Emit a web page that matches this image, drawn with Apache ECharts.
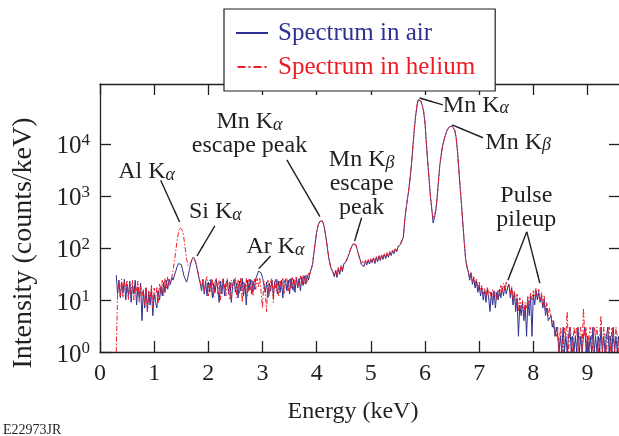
<!DOCTYPE html>
<html>
<head>
    <meta charset="utf-8">
    <title>Spectrum</title>
    <script src="https://cdn.jsdelivr.net/npm/echarts@6/dist/echarts.min.js"></script>
    <style>
        html, body { margin: 0; padding: 0; background: #fff; }
        #main { width: 619px; height: 436px; }
    </style>
</head>
<body>
    <div id="main"></div>
    <script type="text/javascript">
        // channel calibration of the spectra (keV)
        var E0 = 0.3, dE = 0.025;

        // counts/keV, one value per 0.025 keV channel from 0.3 keV
        var airCounts = [
            30, 13, 24, 11, 21, 14, 25, 10, 20, 12,
            23, 9, 19, 13, 24, 8, 18, 11, 21, 4,
            15, 7, 17, 6, 14, 8, 16, 5, 13, 9,
            7, 15, 10, 18, 12, 22, 14, 24, 16, 25,
            20, 27, 24, 30, 36, 44, 50, 54, 48, 38,
            29, 25, 22, 28, 38, 50, 60, 66, 60, 48,
            36, 27, 21, 15, 25, 13, 23, 12, 22, 14,
            25, 11, 21, 14, 24, 16, 9, 23, 13, 25,
            12, 21, 24, 13, 22, 9, 20, 25, 14, 21,
            11, 23, 15, 26, 12, 21, 8, 24, 15, 25,
            13, 23, 16, 26, 30, 36, 37, 33, 27, 20,
            14, 22, 11, 21, 15, 24, 12, 22, 25, 13,
            23, 14, 24, 11, 22, 25, 15, 24, 13, 26,
            16, 25, 14, 27, 17, 26, 15, 28, 19, 29,
            20, 30, 24, 33, 35, 48, 80, 130, 200, 265,
            315, 340, 335, 290, 220, 150, 95, 62, 46, 38,
            34, 28, 36, 27, 40, 31, 44, 35, 48, 46,
            56, 66, 78, 92, 108, 120, 124, 112, 92, 72,
            60, 48, 52, 44, 55, 47, 58, 49, 60, 52,
            64, 50, 66, 54, 70, 57, 72, 60, 75, 62,
            78, 66, 83, 71, 88, 77, 96, 84, 104, 106,
            118, 128, 160, 330, 560, 850, 1300, 2200, 4000, 8300,
            17800, 33000, 52500, 71000, 74000, 66000, 55000, 41700, 25100, 10500,
            4500, 2100, 1000, 560, 300, 380, 525, 950, 2000, 4000,
            6300, 9100, 11700, 14500, 17400, 19500, 21400, 22400, 21900, 20400,
            18200, 13200, 7100, 3200, 1400, 660, 280, 126, 60, 42,
            34, 24, 33, 20, 26, 17, 23, 14, 19, 12,
            17, 10, 15, 9, 16, 11, 6, 14, 8, 15,
            7, 14, 10, 16, 11, 17, 12, 19, 13, 17,
            20, 11, 17, 8, 14, 6, 11, 2, 8, 5,
            9, 4, 8, 2, 10, 5, 12, 2, 13, 8,
            15, 10, 14, 9, 12, 7, 10, 5, 7, 4,
            4, 5, 3, 4, 2, 3, 2, 1, 2, 1,
            3, 1, 2, 1, 2, 3, 1, 2, 1, 2,
            1, 3, 1, 2, 1, 2, 3, 1, 2, 1,
            2, 1, 3, 1, 2, 1, 2, 1, 3, 1,
            2, 1, 2, 3, 1, 2, 1, 3, 1, 2,
            1, 2, 1
        ];

        var heliumCounts = [
            1, 14, 23, 12, 25, 11, 22, 16, 24, 10,
            21, 13, 24, 10, 20, 15, 23, 9, 19, 12,
            16, 8, 18, 6, 15, 11, 19, 7, 17, 10,
            18, 9, 21, 13, 24, 12, 26, 17, 28, 19,
            24, 27, 38, 55, 90, 140, 205, 250, 255, 215,
            150, 95, 60, 46, 45, 52, 61, 67, 62, 50,
            38, 28, 22, 17, 25, 14, 23, 28, 12, 24,
            15, 25, 11, 22, 27, 13, 24, 10, 21, 26,
            24, 12, 26, 15, 10, 24, 16, 21, 27, 11,
            25, 13, 27, 9, 23, 15, 26, 12, 25, 16,
            24, 12, 25, 16, 26, 18, 27, 14, 7, 23,
            14, 6, 24, 12, 22, 26, 9, 23, 15, 25,
            12, 24, 16, 27, 13, 23, 26, 15, 25, 17,
            27, 15, 25, 28, 17, 23, 29, 19, 30, 21,
            31, 22, 33, 30, 38, 52, 84, 135, 205, 270,
            320, 345, 338, 292, 222, 152, 98, 64, 48, 40,
            36, 30, 39, 29, 42, 33, 47, 38, 50, 49,
            58, 68, 80, 95, 110, 122, 126, 114, 94, 74,
            62, 50, 55, 46, 58, 50, 61, 52, 63, 55,
            67, 53, 69, 57, 73, 60, 75, 63, 79, 65,
            82, 69, 86, 74, 91, 80, 99, 87, 107, 110,
            124, 134, 165, 335, 565, 860, 1310, 2210, 4020, 8320,
            17850, 33100, 52600, 71100, 74100, 66100, 55100, 41800, 25200, 10520,
            4510, 2105, 1005, 565, 360, 385, 530, 955, 2010, 4010,
            6310, 9120, 11720, 14520, 17420, 19520, 21420, 22420, 21920, 20420,
            18220, 13220, 7110, 3210, 1405, 665, 285, 130, 63, 45,
            36, 27, 35, 23, 28, 20, 26, 17, 22, 15,
            19, 13, 17, 11, 18, 13, 15, 10, 16, 12,
            14, 10, 16, 12, 19, 14, 21, 15, 22, 17,
            19, 13, 18, 10, 15, 8, 13, 6, 11, 7,
            10, 5, 9, 7, 12, 8, 14, 10, 15, 12,
            17, 11, 16, 10, 14, 8, 12, 6, 9, 5,
            7, 5, 4, 3, 3, 2, 3, 1, 3, 2,
            1, 3, 2, 6, 1, 3, 2, 1, 3, 2,
            3, 1, 2, 3, 1, 7, 2, 3, 1, 2,
            3, 2, 1, 3, 2, 3, 1, 2, 5, 1,
            3, 2, 1, 2, 3, 1, 3, 2, 1, 3,
            2, 1, 3
        ];

        var seriesNames = ['Spectrum in air', 'Spectrum in helium'];
        var xTicks = [0, 1, 2, 3, 4, 5, 6, 7, 8, 9];
        var yTicks = [1, 10, 100, 1000, 10000];

        // annotation labels: [main, greek subscript, extra lines], placed in data coordinates
        var notes = [
            { main: 'Al K', sub: 'α', rest: [], at: [0.86, 2900] },
            { main: 'Si K', sub: 'α', rest: [], at: [2.13, 490] },
            { main: 'Ar K', sub: 'α', rest: [], at: [3.24, 105] },
            { main: 'Mn K', sub: 'α', rest: ['escape peak'], at: [2.76, 15500] },
            { main: 'Mn K', sub: 'β', rest: ['escape', 'peak'], at: [4.83, 1700] },
            { main: 'Mn K', sub: 'α', rest: [], at: [6.94, 54000] },
            { main: 'Mn K', sub: 'β', rest: [], at: [7.72, 10500] },
            { main: 'Pulse', sub: '', rest: ['pileup'], at: [7.87, 590] }
        ];
        var arrows = [
            [[1.12, 2000], [1.47, 316]],
            [[2.12, 265], [1.79, 70]],
            [[3.15, 70], [2.93, 40]],
            [[3.45, 4900], [4.06, 400]],
            [[4.83, 380], [4.70, 135]],
            [[6.33, 56000], [5.90, 76000]],
            [[7.07, 13100], [6.50, 23200]],
            [[7.88, 204], [7.53, 24]],
            [[7.88, 204], [8.12, 21]]
        ];

        var FONT = '"Liberation Serif", "Times New Roman", serif';
        var INK = '#231f20';
        var BLUE = '#2e3192';
        var RED = '#ed1c24';

        var energy = airCounts.map(function (_, i) { return Number((E0 + i * dE).toFixed(3)); });

        function pairs(counts) {
            return counts.map(function (c, i) { return [energy[i], c]; });
        }

        function noteText(n) {
            var s = '{t|' + n.main + '}';
            if (n.sub) s += '{s|' + n.sub + '}';
            n.rest.forEach(function (r) { s += '\n{t|' + r + '}'; });
            return s;
        }

        var myChart = echarts.init(document.getElementById('main'), null, { renderer: 'canvas' });

        var axisLine = { show: true, onZero: false, lineStyle: { color: INK, width: 1.3 } };

        var option = {
            animation: false,
            backgroundColor: '#fff',
            textStyle: { fontFamily: FONT },
            grid: { left: 100, top: 84, width: 520, height: 268, containLabel: false, outerBoundsMode: 'none' },
            legend: {
                orient: 'vertical',
                left: 224,
                top: 9,
                padding: [11, 20, 11, 12],
                itemGap: 8,
                itemWidth: 32,
                itemHeight: 2,
                borderColor: INK,
                borderWidth: 1.2,
                backgroundColor: '#fff',
                textStyle: { fontFamily: FONT, fontSize: 25, lineHeight: 26, padding: [0, 0, 0, 5] },
                data: [
                    { name: seriesNames[0], icon: 'path://M0,0H32V2H0Z', itemStyle: { color: BLUE }, textStyle: { color: BLUE } },
                    { name: seriesNames[1], icon: 'path://M0,0H8V2H0Z M11,0H13V2H11Z M16,0H24V2H16Z M27,0H29V2H27Z', itemStyle: { color: RED }, textStyle: { color: RED } }
                ]
            },
            xAxis: [
                {
                    type: 'value', position: 'bottom', min: 0, max: 9.6, interval: 1,
                    axisLine: axisLine,
                    axisTick: { show: true, inside: true, length: 11, lineStyle: { color: INK, width: 1.3 }, customValues: xTicks },
                    axisLabel: { customValues: xTicks, color: INK, fontFamily: FONT, fontSize: 24, margin: 10 },
                    splitLine: { show: false },
                    name: 'Energy (keV)',
                    nameLocation: 'middle',
                    nameGap: 48,
                    nameTextStyle: { color: INK, fontFamily: FONT, fontSize: 24, padding: [0, 14, 0, 0] }
                },
                {
                    type: 'value', position: 'top', min: 0, max: 9.6, interval: 1,
                    axisLine: axisLine,
                    axisTick: { show: true, inside: true, length: 11, lineStyle: { color: INK, width: 1.3 }, customValues: xTicks },
                    axisLabel: { show: false },
                    splitLine: { show: false }
                }
            ],
            yAxis: [
                {
                    type: 'log', logBase: 10, position: 'left', min: 1, max: Math.pow(10, 5.15),
                    axisLine: axisLine,
                    axisTick: { show: true, inside: true, length: 11, lineStyle: { color: INK, width: 1.3 }, customValues: yTicks },
                    axisLabel: {
                        customValues: yTicks,
                        margin: 10,
                        formatter: function (v) {
                            return '{b|10}{p|' + Math.round(Math.log10(v)) + '}';
                        },
                        rich: {
                            b: { fontFamily: FONT, fontSize: 25, color: INK, lineHeight: 24, padding: [6, 0, 0, 0] },
                            p: { fontFamily: FONT, fontSize: 17, color: INK, lineHeight: 10, verticalAlign: 'top' }
                        }
                    },
                    splitLine: { show: false }
                },
                {
                    type: 'log', logBase: 10, position: 'right', min: 1, max: Math.pow(10, 5.15),
                    axisLine: axisLine,
                    axisTick: { show: true, inside: true, length: 11, lineStyle: { color: INK, width: 1.3 }, customValues: yTicks },
                    axisLabel: { show: false },
                    splitLine: { show: false }
                }
            ],
            graphic: [
                {
                    type: 'text', x: 24, y: 243, rotation: Math.PI / 2,
                    style: { text: 'Intensity (counts/keV)', fill: INK, font: '28px ' + FONT, align: 'center', verticalAlign: 'middle' }
                },
                {
                    type: 'text', left: 3, top: 423,
                    style: { text: 'E22973JR', fill: INK, font: '14px ' + FONT }
                }
            ],
            series: [
                {
                    name: seriesNames[0],
                    type: 'line',
                    xAxisIndex: 0, yAxisIndex: 0,
                    showSymbol: false, symbol: 'none',
                    lineStyle: { color: BLUE, width: 1 },
                    itemStyle: { color: BLUE },
                    data: pairs(airCounts),
                    z: 2
                },
                {
                    name: seriesNames[1],
                    type: 'line',
                    xAxisIndex: 0, yAxisIndex: 0,
                    showSymbol: false, symbol: 'none',
                    lineStyle: { color: RED, width: 1, type: [5, 2, 1.5, 2] },
                    itemStyle: { color: RED },
                    data: pairs(heliumCounts),
                    z: 3,
                    markLine: {
                        silent: true,
                        symbol: ['none', 'arrow'],
                        symbolSize: [1, 13],
                        label: { show: false },
                        lineStyle: { color: INK, width: 1.4, type: 'solid' },
                        emphasis: { disabled: true },
                        data: arrows.map(function (a) {
                            return [{ coord: a[0] }, { coord: a[1] }];
                        })
                    },
                    markPoint: {
                        silent: true,
                        symbol: 'rect',
                        symbolSize: 1,
                        itemStyle: { color: 'rgba(0,0,0,0)' },
                        label: {
                            show: true,
                            position: 'inside',
                            align: 'center',
                            verticalAlign: 'middle',
                            rich: {
                                t: { fontFamily: FONT, fontSize: 24, color: INK, lineHeight: 24 },
                                s: { fontFamily: FONT, fontSize: 18, fontStyle: 'italic', color: INK, lineHeight: 10, verticalAlign: 'bottom' }
                            }
                        },
                        data: notes.map(function (n) {
                            return { coord: n.at, value: 0, label: { formatter: noteText(n) } };
                        })
                    }
                }
            ]
        };

        myChart.setOption(option);
    </script>
</body>
</html>
